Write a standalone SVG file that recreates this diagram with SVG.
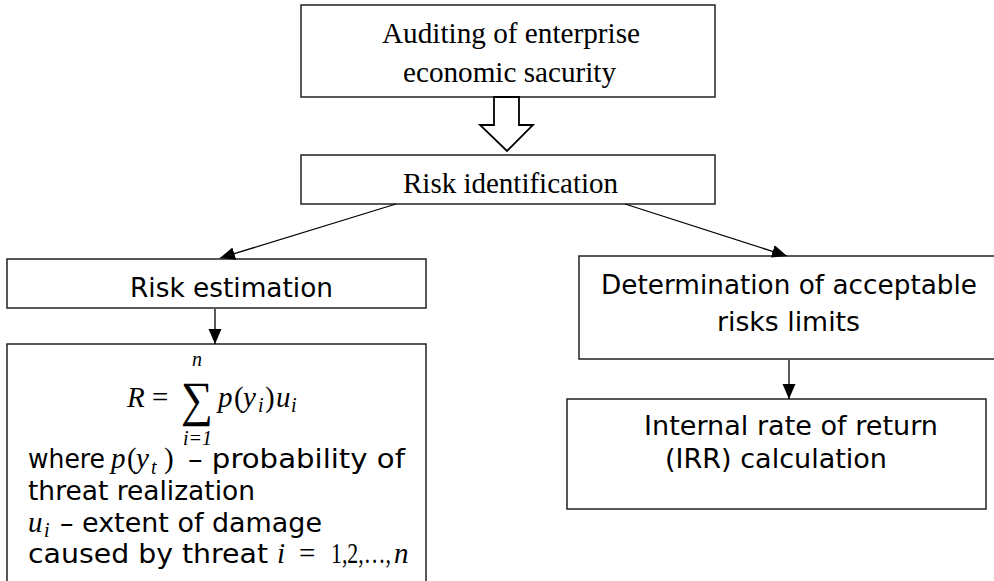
<svg xmlns="http://www.w3.org/2000/svg" width="994" height="581" viewBox="0 0 994 581">
<style>
.box{fill:#fff;stroke:#222;stroke-width:1.5}
.serif{font-family:"Liberation Serif","Times New Roman",serif;font-size:29px;fill:#000}
.sans{font-family:"DejaVu Sans",Verdana,sans-serif;font-size:26px;fill:#000}
.math{font-family:"Liberation Serif","DejaVu Serif",serif;font-style:italic;font-size:29px;fill:#000}
.mathr{font-family:"Liberation Serif","DejaVu Serif",serif;font-size:29px;fill:#000}
.sub{font-family:"Liberation Serif","DejaVu Serif",serif;font-style:italic;font-size:20px;fill:#000}
.subr{font-family:"Liberation Serif","DejaVu Serif",serif;font-size:20px;fill:#000}
.con{stroke:#000;stroke-width:1.3;fill:none}
</style>
<defs>
<marker id="ah" markerUnits="userSpaceOnUse" markerWidth="16" markerHeight="14" refX="15" refY="6.5" orient="auto">
<path d="M0,0 L15,6.5 L0,13 Z" fill="#000"/>
</marker>
</defs>
<g id="audit">
<rect class="box" x="301" y="5" width="414" height="92"/>
<text class="serif" x="382" y="43" textLength="258" lengthAdjust="spacingAndGlyphs">Auditing of enterprise</text>
<text class="serif" x="403" y="82" textLength="213" lengthAdjust="spacingAndGlyphs">economic sacurity</text>
</g>
<g id="hollow-arrow">
<polygon points="494,97 519,97 519,125 533,125 507,151 480,125 494,125" fill="#fff" stroke="#000" stroke-width="1.8"/>
</g>
<g id="risk-identification">
<rect class="box" x="301" y="155" width="414" height="49"/>
<text class="serif" x="403" y="193" textLength="215" lengthAdjust="spacingAndGlyphs">Risk identification</text>
</g>
<g id="risk-estimation">
<rect class="box" x="7" y="259" width="419" height="49"/>
<text class="sans" x="130" y="297" textLength="203" lengthAdjust="spacingAndGlyphs">Risk estimation</text>
</g>
<g id="formula">
<rect class="box" x="7" y="344" width="419" height="300"/>
<text class="math" x="127" y="407">R</text>
<text class="mathr" x="152" y="407">=</text>
<text class="mathr" transform="translate(181,416) scale(1,1.7)" font-size="58" textLength="32" lengthAdjust="spacingAndGlyphs">∑</text>
<text class="sub" x="192" y="366">n</text>
<text class="sub" x="183" y="445">i<tspan class="subr">=1</tspan></text>
<text class="math" x="218" y="407">p</text>
<text class="mathr" x="234" y="407">(</text>
<text class="math" x="243" y="407">y</text>
<text class="sub" x="258" y="412">i</text>
<text class="mathr" x="265" y="407">)</text>
<text class="math" x="276" y="407">u</text>
<text class="sub" x="291" y="412">i</text>
<text class="sans" x="28" y="468" textLength="77" lengthAdjust="spacingAndGlyphs">where</text>
<text class="math" x="111" y="468">p</text>
<text class="mathr" x="127" y="468">(</text>
<text class="math" x="136" y="468">y</text>
<text class="sub" x="151" y="474">t</text>
<text class="mathr" x="164" y="468">)</text>
<text class="sans" x="188" y="468" textLength="217" lengthAdjust="spacingAndGlyphs">– probability of</text>
<text class="sans" x="28" y="500" textLength="227" lengthAdjust="spacingAndGlyphs">threat realization</text>
<text class="math" x="28" y="532">u</text>
<text class="sub" x="44" y="537">i</text>
<text class="sans" x="60" y="532" textLength="262" lengthAdjust="spacingAndGlyphs">– extent of damage</text>
<text class="sans" x="28" y="563" textLength="240" lengthAdjust="spacingAndGlyphs">caused by threat</text>
<text class="math" x="277" y="563">i</text>
<text class="mathr" x="299" y="563">=</text>
<text class="mathr" x="331" y="563" font-size="25" textLength="60" lengthAdjust="spacingAndGlyphs">1,2,…,</text>
<text class="math" x="394" y="563">n</text>
</g>
<g id="acceptable-limits">
<rect class="box" x="579" y="256" width="430" height="103"/>
<text class="sans" x="601" y="294" textLength="376" lengthAdjust="spacingAndGlyphs">Determination of acceptable</text>
<text class="sans" x="717" y="331" textLength="143" lengthAdjust="spacingAndGlyphs">risks limits</text>
</g>
<g id="irr">
<rect class="box" x="567" y="399" width="419" height="110"/>
<text class="sans" x="644" y="435" textLength="294" lengthAdjust="spacingAndGlyphs">Internal rate of return</text>
<text class="sans" x="665" y="468" textLength="222" lengthAdjust="spacingAndGlyphs">(IRR) calculation</text>
</g>
<g id="connectors">
<line class="con" x1="396" y1="204" x2="220" y2="258" marker-end="url(#ah)"/>
<line class="con" x1="625" y1="204" x2="787" y2="256" marker-end="url(#ah)"/>
<line class="con" x1="215" y1="309" x2="215" y2="344" marker-end="url(#ah)"/>
<line class="con" x1="789" y1="360" x2="789" y2="399" marker-end="url(#ah)"/>
</g>
</svg>
